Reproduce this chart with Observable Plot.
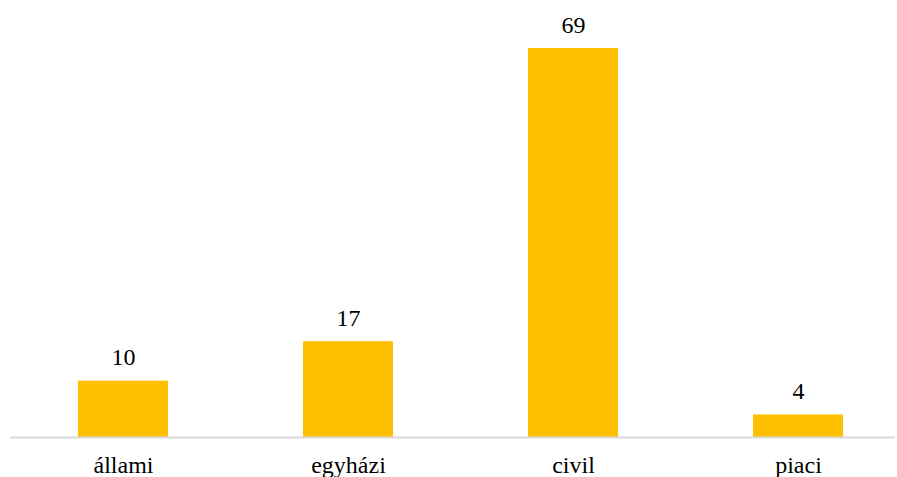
<!DOCTYPE html>
<html>
<head>
<meta charset="utf-8">
<script src="https://cdn.jsdelivr.net/npm/d3@7"></script>
<script src="https://cdn.jsdelivr.net/npm/@observablehq/plot@0.6"></script>
<style>
  html, body { margin: 0; padding: 0; background: #fff; }
  #chart svg { display: block; }
</style>
</head>
<body>
<div id="chart"></div>
<script>
const categories = ["állami", "egyházi", "civil", "piaci"];
const values = [10, 17, 69, 4];

const data = categories.map((c, i) => ({category: c, value: values[i]}));

const serif = "'Liberation Serif', 'Times New Roman', serif";

const chart = Plot.plot({
  width: 897,
  height: 477,
  marginTop: 48,
  marginBottom: 40,
  marginLeft: 10,
  marginRight: 2,
  style: {fontFamily: serif, fontSize: "24px", color: "#000", background: "#fff"},
  x: {domain: categories, range: [9, 912], paddingInner: 0.6, paddingOuter: 0.3, label: null},
  y: {domain: [0, 69], axis: null},
  marks: [
    Plot.barY(data, {x: "category", y: "value", fill: "#FFC000"}),
    Plot.ruleY([0], {stroke: "#D9D9D9", strokeWidth: 2}),
    Plot.text(data, {x: "category", y: "value", text: d => String(d.value), dy: -16, lineAnchor: "bottom", fill: "#000", fontSize: 24, fontFamily: serif}),
    Plot.axisX({tickSize: 0, tickPadding: 18, fontSize: 24, fill: "#000", label: null, fontFamily: serif})
  ]
});
document.getElementById("chart").appendChild(chart);
</script>
</body>
</html>
